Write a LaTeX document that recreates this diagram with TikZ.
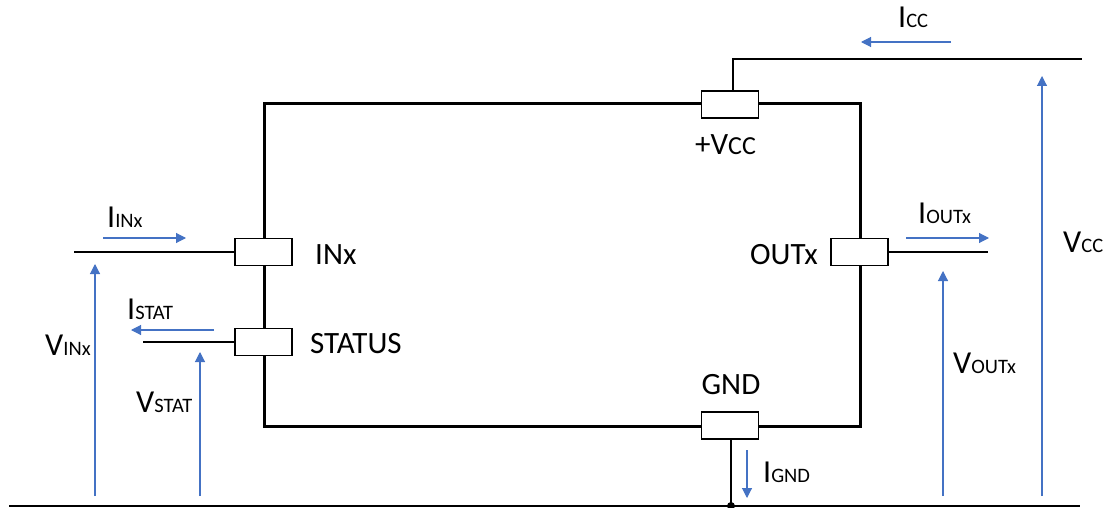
\documentclass[tikz,border=0pt]{standalone}
\usepackage{fontspec}
\setmainfont{Carlito}
\usetikzlibrary{arrows.meta}
\definecolor{arrowblue}{HTML}{4472C4}
\newcommand{\biglbl}[2]{{\fontsize{32}{36}\selectfont #1}{\fontsize{20.5}{24}\selectfont #2}}
\tikzset{
  wire/.style={line width=2pt, black},
  frame/.style={line width=3pt, black},
  pin/.style={draw, line width=1.8pt, fill=white, minimum width=57pt, minimum height=27pt, inner sep=0pt},
  flow/.style={line width=1.1pt, arrowblue, -{Triangle[length=10pt,width=10pt]}},
  pinlabel/.style={font=\fontsize{31}{36}\selectfont, inner sep=0pt},
  qlabel/.style={inner sep=0pt, anchor=base west},
}
\begin{document}
\begin{tikzpicture}[x=1pt,y=-1pt]
\useasboundingbox (0,0) rectangle (1112,508);
% main frame
\draw[frame] (264,104) rectangle (860,426);
% pins
\node[pin] (vccpin) at (730,104.5) {};
\node[pin] (gndpin) at (730,425.5) {};
\node[pin] (inpin) at (263.5,252) {};
\node[pin] (statpin) at (263.5,342) {};
\node[pin] (outpin) at (859.5,252) {};
% coordinates
\coordinate (vcctop) at (733,59);
\coordinate (vccend) at (1082,59);
\coordinate (gndl) at (9,506);
\coordinate (gndr) at (1080,506);
\coordinate (gnddot) at (731,506);
\coordinate (inend) at (74,252);
\coordinate (statend) at (143,342);
\coordinate (outend) at (988,252);
% wires
\draw[wire] (vccpin.north -| vcctop) -- (vcctop) -- (vccend);
\draw[wire] (gndpin.south -| gnddot) -- (gnddot);
\draw[wire] (gndl) -- (gndr);
\fill (gnddot) circle (4pt);
\draw[wire] (inpin.west) -- (inend);
\draw[wire] (statpin.west) -- (statend);
\draw[wire] (outpin.east) -- (outend);
% pin labels
\node[pinlabel, anchor=base west] (inlbl) at (315,265) {INx};
\node[pinlabel, anchor=base west] (statlbl) at (310,353) {STATUS};
\node[pinlabel, anchor=base east] (outlbl) at (818,264) {OUTx};
\node[pinlabel, anchor=base] (gndlbl) at (731,394) {GND};
\node[pinlabel, anchor=base west] (vcclbl) at (695,155) {+V\fontsize{26}{30}\selectfont CC};
% current arrows
\coordinate (icc1) at (951,42); \coordinate (icc2) at (861,42);
\draw[flow] (icc1) -- (icc2);
\node[qlabel] (icclbl) at (898,28) {\biglbl{I}{CC}};
\coordinate (iin1) at (103,238); \coordinate (iin2) at (186,238);
\draw[flow] (iin1) -- (iin2);
\node[qlabel] (iinlbl) at (107,228) {\biglbl{I}{INx}};
\coordinate (ist1) at (214,330); \coordinate (ist2) at (131,330);
\draw[flow] (ist1) -- (ist2);
\node[qlabel] (istlbl) at (127,319) {\biglbl{I}{STAT}};
\coordinate (iout1) at (906,238); \coordinate (iout2) at (989,238);
\draw[flow] (iout1) -- (iout2);
\node[qlabel] (ioutlbl) at (918,223) {\biglbl{I}{OUTx}};
\coordinate (ignd1) at (747,450); \coordinate (ignd2) at (747,498);
\draw[flow] (ignd1) -- (ignd2);
\node[qlabel] (igndlbl) at (763,482) {\biglbl{I}{GND}};
% voltage arrows
\coordinate (vin1) at (95,496); \coordinate (vin2) at (95,264);
\draw[flow] (vin1) -- (vin2);
\node[qlabel] (vinlbl) at (45,355) {\biglbl{V}{INx}};
\coordinate (vst1) at (200,496); \coordinate (vst2) at (200,352);
\draw[flow] (vst1) -- (vst2);
\node[qlabel] (vstlbl) at (136,412) {\biglbl{V}{STAT}};
\coordinate (vout1) at (943,496); \coordinate (vout2) at (943,271);
\draw[flow] (vout1) -- (vout2);
\node[qlabel] (voutlbl) at (953,373) {\biglbl{V}{OUTx}};
\coordinate (vcc1) at (1042,496); \coordinate (vcc2) at (1042,76);
\draw[flow] (vcc1) -- (vcc2);
\node[qlabel] (vcclbl2) at (1063,252) {\biglbl{V}{CC}};
\end{tikzpicture}
\end{document}
